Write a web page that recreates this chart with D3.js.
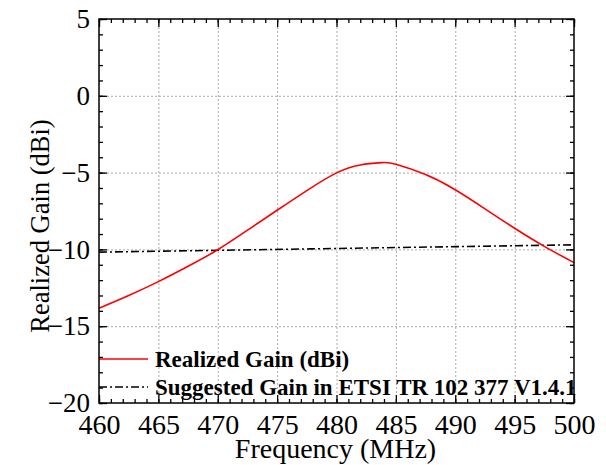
<!DOCTYPE html>
<html>
<head>
<meta charset="utf-8">
<script src="https://cdn.jsdelivr.net/npm/d3@7"></script>
<style>
  body { margin: 0; background: #fff; }
  svg text { font-family: "Liberation Serif", "Times New Roman", serif; fill: #000; }
  .grid line { stroke: #aaa; stroke-dasharray: 2,2; }
  .grid .domain { display: none; }
</style>
</head>
<body>
<svg width="606" height="465"></svg>
<script>
// realized gain
const freq = [460, 462.5, 465, 467.5, 470, 472.5, 475, 477.5, 480, 482, 483.8, 485, 487.5, 490, 492.5, 495, 497.5, 500];
const gain = [-13.83, -13.0, -12.1, -11.1, -10.02, -8.75, -7.45, -6.17, -5.02, -4.5, -4.35, -4.45, -5.13, -6.12, -7.36, -8.62, -9.8, -10.86];

// ETSI suggested gain
const etsiFreq = [460, 470, 480, 490, 500];
const etsiGain = [-10.18, -10.06, -9.94, -9.82, -9.7];

const xTicks = [460, 465, 470, 475, 480, 485, 490, 495, 500];
const yTicks = [5, 0, -5, -10, -15, -20];

const legendLabels = ['Realized Gain (dBi)', 'Suggested Gain in ETSI TR 102 377 V1.4.1'];

function whenLoaded(){
    const svg = d3.select('svg');
    const width = +svg.attr('width');
    const height = +svg.attr('height');
    const margin = {top:19, right:32, bottom:62, left:99};
    const innerWidth = width - margin.left - margin.right;
    const innerHeight = height - margin.top - margin.bottom;
    const serif = 'Liberation Serif';

    const xScale = d3.scaleLinear().domain([460, 500]).range([0, innerWidth]);
    const yScale = d3.scaleLinear().domain([-20, 5]).range([innerHeight, 0]);

    const g = svg.append('g')
        .attr('transform', `translate(${margin.left},${margin.top})`);

    // dotted grid
    g.append('g').attr('class', 'grid')
        .call(d3.axisBottom(xScale).tickValues(xTicks.slice(1, -1)).tickSize(innerHeight).tickFormat(''));
    g.append('g').attr('class', 'grid')
        .call(d3.axisLeft(yScale).tickValues(yTicks.slice(1, -1)).tickSize(-innerWidth).tickFormat(''));

    const xMinor = d3.range(460, 500.5, 1);
    const yMinor = d3.range(-20, 5.5, 1);

    const styleAxis = sel => {
        sel.selectAll('.domain').remove();
        sel.selectAll('line').attr('stroke', '#000').attr('stroke-width', 1.3);
    };

    // major + minor ticks on all four sides, pointing inward
    g.append('g').attr('transform', `translate(0,${innerHeight})`)
        .call(d3.axisBottom(xScale).tickValues(xMinor).tickSize(-4).tickFormat('')).call(styleAxis);
    g.append('g').call(d3.axisTop(xScale).tickValues(xMinor).tickSize(-4).tickFormat('')).call(styleAxis);
    g.append('g').call(d3.axisLeft(yScale).tickValues(yMinor).tickSize(-4).tickFormat('')).call(styleAxis);
    g.append('g').attr('transform', `translate(${innerWidth},0)`)
        .call(d3.axisRight(yScale).tickValues(yMinor).tickSize(-4).tickFormat('')).call(styleAxis);

    const xAxisG = g.append('g').attr('transform', `translate(0,${innerHeight})`)
        .call(d3.axisBottom(xScale).tickValues(xTicks).tickSize(-8).tickPadding(11).tickFormat(d3.format('d')))
        .call(styleAxis);
    const yAxisG = g.append('g')
        .call(d3.axisLeft(yScale).tickValues(yTicks).tickSize(-8).tickPadding(9).tickFormat(d3.format('d')))
        .call(styleAxis);
    g.append('g').call(d3.axisTop(xScale).tickValues(xTicks).tickSize(-8).tickFormat('')).call(styleAxis);
    g.append('g').attr('transform', `translate(${innerWidth},0)`)
        .call(d3.axisRight(yScale).tickValues(yTicks).tickSize(-8).tickFormat('')).call(styleAxis);

    xAxisG.attr('font-family', serif).selectAll('text').attr('font-size', 28).attr('fill', '#000');
    yAxisG.attr('font-family', serif).selectAll('text').attr('font-size', 27).attr('fill', '#000');

    // lines
    const line = d3.line()
        .x(d => xScale(d[0]))
        .y(d => yScale(d[1]))
        .curve(d3.curveNatural);

    g.append('path')
        .datum(d3.zip(etsiFreq, etsiGain))
        .attr('fill', 'none')
        .attr('stroke', '#000')
        .attr('stroke-width', 1.6)
        .attr('stroke-dasharray', '8,3,2,3')
        .attr('d', line);

    g.append('path')
        .datum(d3.zip(freq, gain))
        .attr('fill', 'none')
        .attr('stroke', '#ff0000')
        .attr('stroke-width', 1.6)
        .attr('d', line);

    // legend
    const legend = g.append('g');
    const legendStyles = [{stroke:'#ff0000', dash:null}, {stroke:'#000', dash:'8,3,2,3'}];
    legendLabels.forEach((label, i) => {
        const y = 340 + i * 28;
        legend.append('line')
            .attr('x1', 0).attr('x2', 49)
            .attr('y1', y).attr('y2', y)
            .attr('stroke', legendStyles[i].stroke)
            .attr('stroke-width', 1.6)
            .attr('stroke-dasharray', legendStyles[i].dash);
        legend.append('text')
            .attr('x', 56)
            .attr('y', y + 8)
            .attr('font-family', serif)
            .attr('font-size', 23)
            .attr('font-weight', 'bold')
            .text(label);
    });

    // frame
    g.append('rect')
        .attr('width', innerWidth).attr('height', innerHeight)
        .attr('fill', 'none').attr('stroke', '#000').attr('stroke-width', 1.5);

    // axis titles
    svg.append('text')
        .attr('x', margin.left + innerWidth / 2 - 1)
        .attr('y', 458)
        .attr('text-anchor', 'middle')
        .attr('font-family', serif)
        .attr('font-size', 28)
        .text('Frequency (MHz)');

    svg.append('text')
        .attr('transform', `translate(49,226) rotate(-90)`)
        .attr('text-anchor', 'middle')
        .attr('font-family', serif)
        .attr('font-size', 26.5)
        .text('Realized Gain (dBi)');
}

window.onload = whenLoaded;
</script>
</body>
</html>
